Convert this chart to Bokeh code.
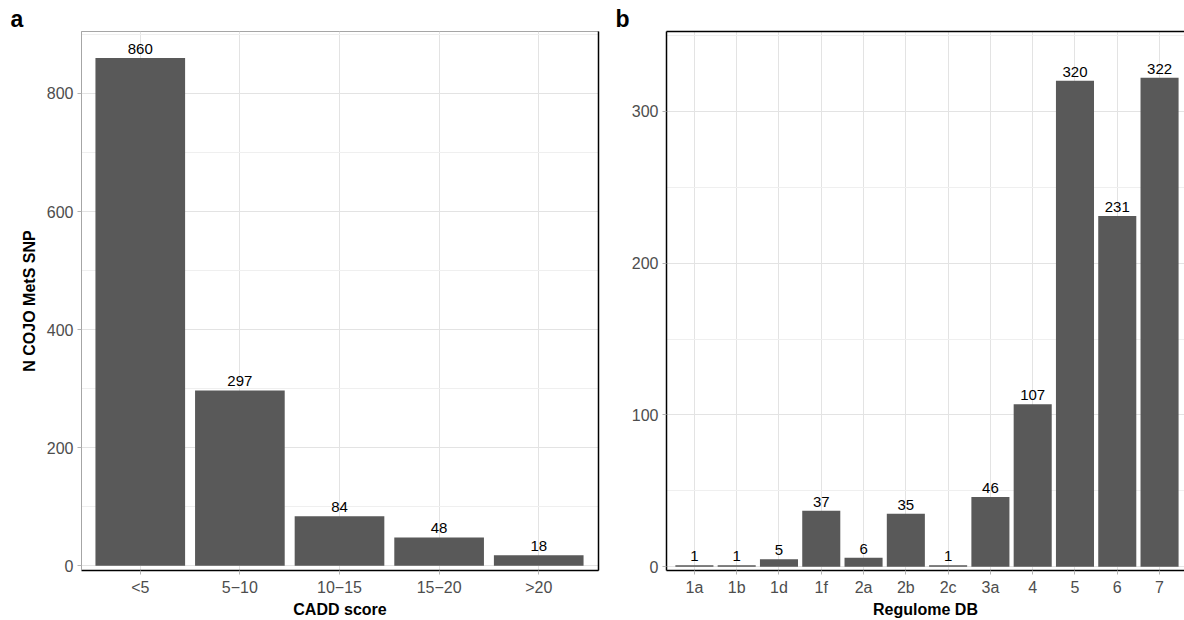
import numpy as np
from bokeh.plotting import figure
from bokeh.layouts import row
from bokeh.models import ColumnDataSource, Range1d, FixedTicker, LinearAxis
from bokeh.core.properties import value
from bokeh.embed import file_html
from bokeh.resources import INLINE

# CADD score bins and SNP counts
cadd_cats = ["<5", "5\u221210", "10\u221215", "15\u221220", ">20"]
cadd_counts = [860, 297, 84, 48, 18]

# RegulomeDB categories and SNP counts
reg_cats = ["1a", "1b", "1d", "1f", "2a", "2b", "2c", "3a", "4", "5", "6", "7"]
reg_counts = [1, 1, 5, 37, 6, 35, 1, 46, 107, 320, 231, 322]

cadd_major = [0, 200, 400, 600, 800]
cadd_minor = [100, 300, 500, 700, 900]
reg_major = [0, 100, 200, 300]
reg_minor = [50, 150, 250, 350]

FONT = "Liberation Sans"
BAR = "#595959"
GRID = "#e3e3e3"
GRID_MINOR = "#efefef"


def make_panel(cats, counts, major, minor, xr, yr, width, left, right,
               xlabel, ylabel, tag, tag_offset):
    x = np.arange(1, len(cats) + 1)
    src = ColumnDataSource(dict(x=x, top=counts, lab=[str(c) for c in counts]))
    p = figure(width=width, height=620, output_backend="svg", toolbar_location=None,
               x_range=Range1d(*xr), y_range=Range1d(*yr),
               min_border_left=left, min_border_right=right,
               min_border_top=31, min_border_bottom=47)
    p.vbar(x="x", top="top", width=0.9, bottom=0, source=src, color=BAR, line_color=None)
    p.text(x="x", y="top", text="lab", source=src, text_align="center",
           text_baseline="bottom", y_offset=-4, text_font_size="15px",
           text_color="black", text_font=value(FONT))

    p.xaxis.ticker = FixedTicker(ticks=list(x))
    p.xaxis.major_label_overrides = {int(i): c for i, c in zip(x, cats)}
    p.yaxis.ticker = FixedTicker(ticks=major, minor_ticks=minor)

    for ax in (p.xaxis[0], p.yaxis[0]):
        ax.major_label_text_font = FONT
        ax.major_label_text_font_size = "16px"
        ax.major_label_text_color = "#4d4d4d"
        ax.major_tick_line_color = "#b3b3b3"
        ax.major_tick_out = 4
        ax.major_tick_in = 0
        ax.minor_tick_line_color = None
        ax.major_label_standoff = 4
        ax.axis_label_text_font = FONT
        ax.axis_label_text_font_size = "16px"
        ax.axis_label_text_font_style = "bold"
        ax.axis_label_text_color = "black"
    p.xaxis.axis_label = xlabel
    p.xaxis.axis_label_standoff = 2
    p.yaxis.axis_label = ylabel
    p.yaxis.axis_label_standoff = 6

    p.xgrid.grid_line_color = GRID
    p.ygrid.grid_line_color = GRID
    p.ygrid.minor_grid_line_color = GRID_MINOR
    p.xaxis.axis_line_color = "black"
    p.xaxis.axis_line_width = 1.5
    p.background_fill_color = "white"
    p.border_fill_color = "white"

    # panel tag in the top-left corner
    p.title.text = tag
    p.title.text_font = FONT
    p.title.text_font_size = "23px"
    p.title.text_font_style = "bold"
    p.title.text_color = "black"
    p.title.align = "left"
    p.title.offset = tag_offset
    p.title.standoff = 0
    return p


p1 = make_panel(cadd_cats, cadd_counts, cadd_major, cadd_minor,
                (0.41, 5.6), (-8, 905), 610, 81, 12, "CADD score", "N COJO MetS SNP",
                "a", -71)
p1.outline_line_color = "#a6a6a6"
p1.yaxis.axis_line_color = "#a6a6a6"
p1.add_layout(LinearAxis(ticker=FixedTicker(ticks=[]), major_label_text_font_size="0px",
                         axis_line_color="black", axis_line_width=1.5,
                         major_tick_line_color=None, minor_tick_line_color=None), "right")

p2 = make_panel(reg_cats, reg_counts, reg_major, reg_minor,
                (0.34, 12.59), (-2.4, 352.5), 574, 56, 0, "Regulome DB", "",
                "b", -51)
p2.outline_line_color = None
p2.yaxis.axis_line_color = "black"
p2.yaxis.axis_line_width = 1.5
p2.add_layout(LinearAxis(ticker=FixedTicker(ticks=[]), major_label_text_font_size="0px",
                         axis_line_color="black", axis_line_width=1.5,
                         major_tick_line_color=None, minor_tick_line_color=None), "above")

layout = row(p1, p2)
open("out.html", "w").write(file_html(layout, INLINE))
